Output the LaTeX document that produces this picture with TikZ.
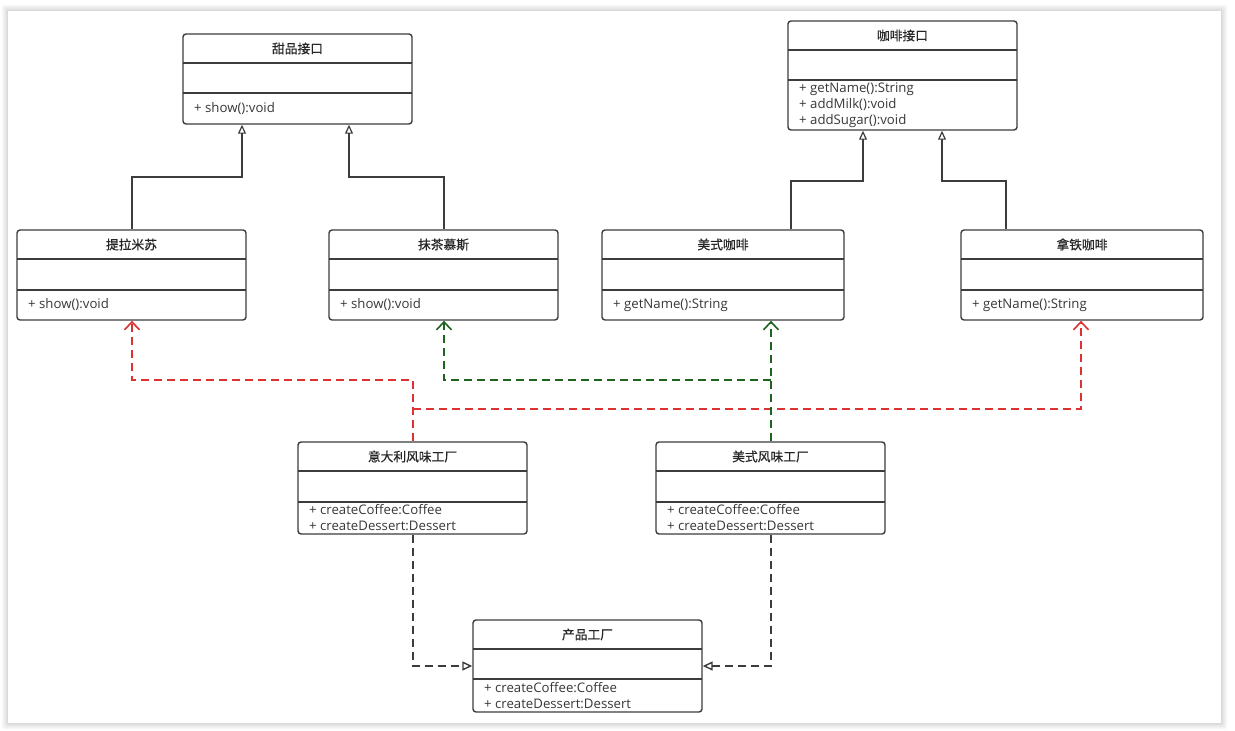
\documentclass[tikz,border=0pt]{standalone}
\usepackage{fontspec}
\setmainfont{Open Sans}
\newfontfamily\cjk[FakeBold=0.6]{Noto Sans CJK SC}
\usetikzlibrary{arrows.meta}
\definecolor{boxline}{RGB}{60,60,60}
\definecolor{redline}{RGB}{221,50,50}
\definecolor{greenline}{RGB}{30,100,30}
\definecolor{grayline}{RGB}{60,60,60}
\tikzset{
  clsbox/.style={draw=boxline, line width=1.4pt, rounded corners=3pt, fill=white, inner sep=0pt},
  divider/.style={draw=boxline, line width=1.4pt},
  clstitle/.style={font=\cjk\fontsize{12.75}{14}\selectfont, text=black!85, inner sep=0pt},
  clsmeth/.style={font=\fontsize{13.2}{16}\selectfont, text=black!78, align=left, inner sep=0pt, anchor=west},
  inherit/.style={draw=boxline, line width=1.4pt, -{Triangle[open, length=9pt, width=8pt, line width=1.2pt]}},
  depred/.style={draw=redline, line width=1.6pt, dash pattern=on 8pt off 5pt},
  depgreen/.style={draw=greenline, line width=1.6pt, dash pattern=on 8pt off 5pt},
  deptip/.style={-{Straight Barb[length=8pt, width=15pt, line width=1.6pt]}},
  realize/.style={draw=grayline, line width=1.6pt, dash pattern=on 8pt off 5pt, -{Triangle[open, length=10pt, width=9pt, line width=1.4pt]}},
}
% #1 name, #2 x1, #3 y1, #4 x2, #5 y2, #6 div1, #7 div2, #8 title, #9 methods
\newcommand{\UClass}[9]{%
  \node[clsbox, minimum width={(#4-#2)*1pt}, minimum height={(#5-#3)*1pt}] (#1) at ({(#2+#4)/2},{(#3+#5)/2}) {};
  \draw[divider] (#2,#6) -- (#4,#6);
  \draw[divider] (#2,#7) -- (#4,#7);
  \node[clstitle] (#1-t) at ({(#2+#4)/2},{(#3+#6)/2}) {#8};
  \node[clsmeth] (#1-m) at ({#2+11},{(#7+#5)/2}) {#9};
}
\begin{document}
\begin{tikzpicture}[x=1pt, y=-1pt]
\useasboundingbox (0,0) rectangle (1235,731);
% frame shadow
\foreach \i/\c in {6/97,5/95,4/93,3/91,2/88,1/85}{
  \fill[black!\the\numexpr100-\c\relax, rounded corners=2pt] ({8-\i},{11-\i}) rectangle ({1221+\i},{723+\i});
}
\fill[white] (8,11) rectangle (1221,723);

\UClass{dess}{183}{34}{412}{124}{63}{93}{甜品接口}{+ show():void}
\UClass{coff}{788}{21}{1017}{130}{50}{80}{咖啡接口}{+ getName():String\\+ addMilk():void\\+ addSugar():void}
\UClass{tira}{17}{230}{246}{320}{259}{290}{提拉米苏}{+ show():void}
\UClass{matc}{329}{230}{558}{320}{259}{290}{抹茶慕斯}{+ show():void}
\UClass{amer}{602}{230}{844}{320}{259}{290}{美式咖啡}{+ getName():String}
\UClass{latt}{961}{230}{1203}{320}{259}{290}{拿铁咖啡}{+ getName():String}
\UClass{ital}{298}{442}{527}{534}{471}{502}{意大利风味工厂}{+ createCoffee:Coffee\\+ createDessert:Dessert}
\UClass{amfa}{656}{442}{885}{534}{471}{502}{美式风味工厂}{+ createCoffee:Coffee\\+ createDessert:Dessert}
\UClass{prod}{473}{620}{702}{712}{649}{679}{产品工厂}{+ createCoffee:Coffee\\+ createDessert:Dessert}

% inheritance
\draw[inherit] (tira.north -| 132,0) -- (132,177) -- (242,177) -- (dess.south -| 242,0);
\draw[inherit] (matc.north -| 444,0) -- (444,177) -- (349,177) -- (dess.south -| 349,0);
\draw[inherit] (amer.north -| 791,0) -- (791,181) -- (863,181) -- (coff.south -| 863,0);
\draw[inherit] (latt.north -| 1006,0) -- (1006,181) -- (942,181) -- (coff.south -| 942,0);

% dependencies
\draw[depred, deptip] (ital.north -| 413,0) -- (413,380) -- (132,380) -- (tira.south -| 132,0);
\draw[depred, deptip] (413,409) -- (1081,409) -- (latt.south -| 1081,0);
\draw[depgreen, deptip] (amfa.north -| 771,0) -- (amer.south -| 771,0);
\draw[depgreen, deptip] (771,380) -- (444,380) -- (matc.south -| 444,0);

% realization
\draw[realize] (ital.south -| 413,0) -- (413,666) -- (prod.west |- 0,666);
\draw[realize] (amfa.south -| 771,0) -- (771,666) -- (prod.east |- 0,666);
\end{tikzpicture}
\end{document}
